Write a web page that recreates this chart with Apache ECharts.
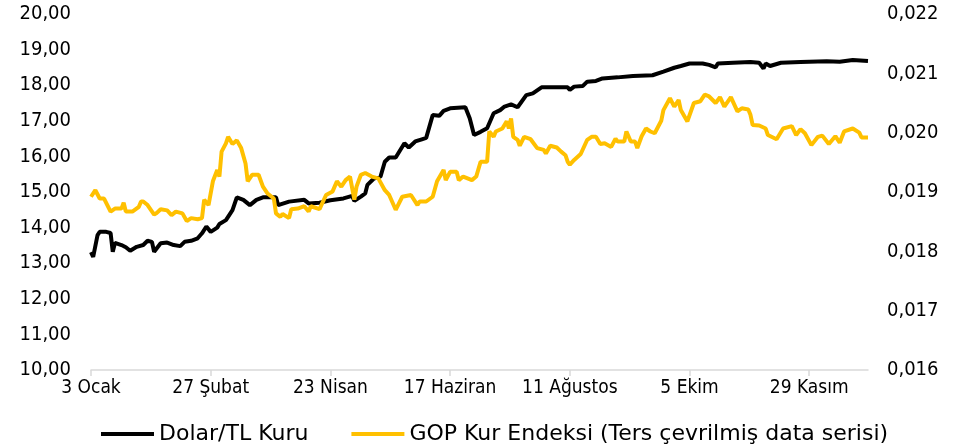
<!DOCTYPE html>
<html>
<head>
<meta charset="utf-8">
<script src="https://cdn.jsdelivr.net/npm/echarts@6/dist/echarts.min.js"></script>
<style>
  html, body { margin: 0; padding: 0; background: #fff; }
  #chart { width: 970px; height: 447px; }
</style>
</head>
<body>
<div id="chart"></div>
<script>
// x ekseni: 3 Ocak'tan itibaren gün sayısı (0..357), etiketler 55 günde bir
var gunSayisi = 358;
var eksenEtiketleri = ['3 Ocak', '27 Şubat', '23 Nisan', '17 Haziran', '11 Ağustos', '5 Ekim', '29 Kasım'];

// Dolar/TL kuru (sol eksen)
var dolarGun = [0, 1, 3, 4, 7, 9, 10, 11, 14, 16, 18, 21, 24, 26, 28, 29, 32, 35, 38, 41, 43, 46, 49, 51, 53, 55, 58, 59,
  62, 65, 67, 70, 73, 76, 79, 85, 86, 91, 98, 100, 105, 110, 116, 120, 121, 124, 126, 127, 130, 133, 135, 137, 140,
  144, 146, 149, 152, 154, 157, 160, 162, 165, 172, 174, 176, 179, 182, 185, 188, 190, 193, 196, 200, 203, 207, 212,
  219, 220, 222, 226, 228, 232, 235, 242, 249, 258, 263, 268, 271, 275, 281, 284, 287, 288, 295, 303, 307, 309, 310,
  312, 317, 326, 338, 344, 350, 357];
var dolarKur = [13.31, 13.18, 13.79, 13.88, 13.88, 13.85, 13.32, 13.57, 13.51, 13.45, 13.35, 13.46, 13.51, 13.63, 13.60,
  13.32, 13.56, 13.58, 13.51, 13.48, 13.60, 13.63, 13.70, 13.84, 14.03, 13.88, 14.00, 14.10,
  14.21, 14.49, 14.85, 14.78, 14.63, 14.78, 14.85, 14.85, 14.63, 14.73, 14.78, 14.68, 14.70, 14.77, 14.82, 14.89,
  14.75, 14.87, 14.96, 15.20, 15.38, 15.43, 15.85, 15.97, 15.97,
  16.37, 16.25, 16.42, 16.48, 16.52, 17.16, 17.14, 17.28, 17.35, 17.38, 17.07, 16.60, 16.69, 16.79, 17.21, 17.30,
  17.40, 17.46, 17.38, 17.72, 17.77, 17.94, 17.94,
  17.94, 17.87, 17.96, 17.98, 18.10, 18.12, 18.19, 18.22, 18.26, 18.28, 18.38, 18.49, 18.54, 18.61, 18.61, 18.57,
  18.50, 18.61, 18.63, 18.65, 18.63, 18.47, 18.61,
  18.54, 18.63, 18.65, 18.67, 18.66, 18.71, 18.68];

// GOP kur endeksi, ters çevrilmiş (sağ eksen)
var gopGun = [0, 2, 4, 6, 9, 11, 14, 15, 16, 19, 22, 23, 24, 26, 29, 30, 32, 35, 37, 39, 42, 44, 46, 49, 51, 52, 54,
  56, 58, 59, 60, 62, 63, 65, 67, 69, 71, 72, 74, 77, 79, 81, 84, 85, 87, 88, 91, 92, 95, 98, 100, 101, 105, 108,
  111, 113, 115, 117, 119, 121, 122, 124, 126, 129, 132, 135, 137, 140, 143, 147, 150, 151, 154, 157, 159, 162,
  163, 165, 168, 169, 171, 175, 177, 179, 182, 183, 185, 186, 189, 191, 192, 193, 194, 196, 197, 199, 202, 205,
  208, 209, 211, 214, 216, 218, 219, 220, 222, 225, 228, 230, 232, 234, 236, 239, 241, 242, 245, 246, 248, 250,
  251, 253, 255, 257, 259, 262, 263, 266, 268, 270, 271, 274, 277, 280, 282, 284, 287, 289, 291, 294, 297, 299,
  302, 303, 304, 307, 310, 311, 315, 318, 322, 324, 326, 328, 331, 334, 336, 339, 342, 344, 346, 350, 353, 354, 357];
var gopEndeks = [0.01892, 0.01903, 0.01889, 0.01889, 0.01867, 0.01872, 0.01872, 0.01882, 0.01867, 0.01867, 0.01875,
  0.01884, 0.01884, 0.01878, 0.01862, 0.01864, 0.01871, 0.01869, 0.01861, 0.01867, 0.01864, 0.01851, 0.01856,
  0.01854, 0.01856, 0.01887, 0.01878,
  0.01918, 0.01937, 0.01926, 0.01968, 0.01982, 0.01993, 0.01981, 0.01987, 0.01974, 0.01948, 0.01918, 0.01929,
  0.01929, 0.01909, 0.01898, 0.01889, 0.01864, 0.01858, 0.01863, 0.01856, 0.01871, 0.01872, 0.01876, 0.01867,
  0.01876, 0.01871, 0.01895,
  0.01901, 0.01918, 0.01909, 0.01920, 0.01926, 0.01887, 0.01909, 0.01929, 0.01932, 0.01926, 0.01923, 0.01903,
  0.01895, 0.01870, 0.01892, 0.01895, 0.01878, 0.01884, 0.01884, 0.01892, 0.01918, 0.01937,
  0.01920, 0.01934, 0.01934, 0.01920, 0.01926, 0.01920, 0.01926, 0.01951, 0.01951, 0.02002, 0.01993, 0.02002,
  0.02007, 0.02019, 0.02007, 0.02024, 0.01993, 0.01988, 0.01978, 0.01993, 0.01989, 0.01974,
  0.01971, 0.01965, 0.01978, 0.01975, 0.01968, 0.01962, 0.01951, 0.01946, 0.01954, 0.01964, 0.01988, 0.01993,
  0.01993, 0.01981, 0.01982, 0.01976, 0.01990, 0.01985, 0.01985, 0.02002, 0.01985, 0.01985,
  0.01974, 0.01994, 0.02007, 0.02002, 0.01999, 0.02020, 0.02038, 0.02058, 0.02044, 0.02055, 0.02038, 0.02019,
  0.02050, 0.02053, 0.02064, 0.02061, 0.02050, 0.02060, 0.02044, 0.02060, 0.02036, 0.02041,
  0.02039, 0.02030, 0.02013, 0.02012, 0.02007, 0.01996, 0.01989, 0.02007, 0.02011, 0.01996, 0.02006, 0.01999,
  0.01979, 0.01993, 0.01995, 0.01981, 0.01994, 0.01983, 0.02002, 0.02007, 0.02000, 0.01992, 0.01992];

var kategoriler = [];
for (var i = 0; i < gunSayisi; i++) kategoriler.push(i);

function ciftler(gunler, degerler) {
  return gunler.map(function (g, k) { return [g, degerler[k]]; });
}

// eksen yazilari dar font, lejant normal
var darFont = '"DejaVu Sans Condensed", "DejaVu Sans", sans-serif';
var font = '"DejaVu Sans", sans-serif';
var chart = echarts.init(document.getElementById('chart'), null, { renderer: 'canvas' });

var option = {
  animation: false,
  textStyle: { fontFamily: font },
  grid: { left: 91, right: 102, top: 14, bottom: 77, containLabel: false },
  legend: {
    data: ['Dolar/TL Kuru', 'GOP Kur Endeksi (Ters çevrilmiş data serisi)'],
    left: 96,
    top: 418,
    itemWidth: 53,
    itemHeight: 4,
    itemGap: 43,
    textStyle: { fontFamily: font, fontSize: 22, color: '#000' },
    icon: 'rect'
  },
  xAxis: {
    type: 'category',
    data: kategoriler,
    boundaryGap: false,
    axisLine: { lineStyle: { color: '#d9d9d9', width: 1.5 } },
    axisTick: { interval: 54, length: 6, lineStyle: { color: '#d9d9d9', width: 1.5 } },
    axisLabel: {
      interval: 54,
      margin: 9,
      fontSize: 19,
      color: '#000',
      fontFamily: darFont,
      formatter: function (v, idx) { return eksenEtiketleri[idx / 55] || ''; }
    },
    splitLine: { show: false }
  },
  yAxis: [{
    type: 'value',
    min: 10, max: 20, interval: 1,
    axisLine: { show: false },
    axisTick: { show: false },
    splitLine: { show: false },
    axisLabel: {
      margin: 20, fontSize: 20, color: '#000', fontFamily: darFont,
      formatter: function (v) { return v.toFixed(2).replace('.', ','); }
    }
  }, {
    type: 'value',
    min: 0.016, max: 0.022, interval: 0.001,
    position: 'right',
    axisLine: { show: false },
    axisTick: { show: false },
    splitLine: { show: false },
    axisLabel: {
      margin: 19, fontSize: 20, color: '#000', fontFamily: darFont,
      formatter: function (v) { return v.toFixed(3).replace('.', ','); }
    }
  }],
  series: [{
    name: 'Dolar/TL Kuru',
    type: 'line',
    yAxisIndex: 0,
    data: ciftler(dolarGun, dolarKur),
    showSymbol: false,
    symbol: 'none',
    lineStyle: { color: '#000', width: 4 },
    itemStyle: { color: '#000' }
  }, {
    name: 'GOP Kur Endeksi (Ters çevrilmiş data serisi)',
    type: 'line',
    yAxisIndex: 1,
    data: ciftler(gopGun, gopEndeks),
    showSymbol: false,
    symbol: 'none',
    lineStyle: { color: '#ffc000', width: 4 },
    itemStyle: { color: '#ffc000' }
  }]
};
chart.setOption(option);
</script>
</body>
</html>
